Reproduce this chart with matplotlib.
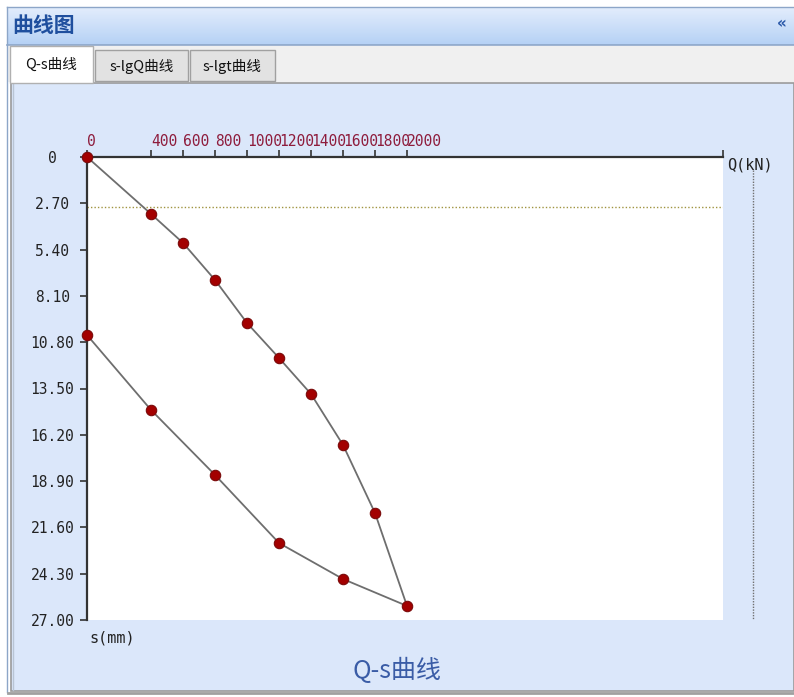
import numpy as np
import matplotlib
matplotlib.use("Agg")
import matplotlib.pyplot as plt
from matplotlib.patches import Rectangle

plt.rcParams['font.family'] = ['Noto Sans CJK SC', 'DejaVu Sans']

# loading / unloading data, Q in kN, s in mm
load_q = [0, 400, 600, 800, 1000, 1200, 1400, 1600, 1800, 2000]
load_s = [0, 3.32, 5.01, 7.17, 9.68, 11.72, 13.82, 16.79, 20.76, 26.18]
unload_q = [2000, 1600, 1200, 800, 400, 0]
unload_s = [26.18, 24.61, 22.51, 18.54, 14.75, 10.38]
limit_s = 2.92

x_ticks = [0, 400, 600, 800, 1000, 1200, 1400, 1600, 1800, 2000]
y_ticks = [0, 2.7, 5.4, 8.1, 10.8, 13.5, 16.2, 18.9, 21.6, 24.3, 27.0]
y_labels = ['0'] + [f'{v:.2f}' for v in y_ticks[1:]]
tabs = ['Q-s曲线', 's-lgQ曲线', 's-lgt曲线']

W, H = 794, 697
fig = plt.figure(figsize=(W / 100, H / 100), dpi=100)
fig.patch.set_facecolor('white')

# window chrome, drawn in pixel coordinates
bg = fig.add_axes([0, 0, 1, 1], zorder=0)
bg.set_xlim(0, W)
bg.set_ylim(H, 0)
bg.axis('off')

grad = np.linspace(0, 1, 64).reshape(-1, 1)
top_c = np.array([0.89, 0.93, 0.99])
bot_c = np.array([0.71, 0.82, 0.96])
bar = top_c + (bot_c - top_c) * grad[..., None]
bg.imshow(bar, extent=(7, W, 45, 7), aspect='auto', zorder=1)
bg.plot([7, W], [7, 7], color='#8da6c8', lw=1, zorder=2)
bg.plot([7, W], [45, 45], color='#8da6c8', lw=1.2, zorder=2)
bg.plot([7, 7], [7, 692], color='#8da6c8', lw=1, zorder=2)
bg.text(12, 26, '曲线图', fontsize=15, fontweight='bold', color='#1f4f9e',
        va='center', ha='left', zorder=3)
bg.text(782, 24, '«', fontsize=11, fontweight='bold', color='#2a58a8',
        va='center', ha='center', family='DejaVu Sans', zorder=3)

bg.add_patch(Rectangle((8, 46), W - 8, 36, facecolor='#f0f0f0', edgecolor='none', zorder=1))
tab_x = [(10, 93), (95, 188), (190, 275)]
for i, (label, (x0, x1)) in enumerate(zip(tabs, tab_x)):
    if i == 0:
        bg.add_patch(Rectangle((x0, 46), x1 - x0, 37, facecolor='white',
                               edgecolor='#b0b0b0', lw=1, zorder=3))
    else:
        bg.add_patch(Rectangle((x0, 50), x1 - x0, 31, facecolor='#e2e2e2',
                               edgecolor='#a0a0a0', lw=1, zorder=2))
    bg.text((x0 + x1) / 2, 65 if i == 0 else 66, label, fontsize=10.5, color='#111111',
            ha='center', va='center', zorder=4)

bg.add_patch(Rectangle((11, 83), W - 11, 608, facecolor='#dbe7fa',
                       edgecolor='#9a9a9a', lw=1.2, zorder=1))
bg.plot([13, 13], [84, 690], color='#b8c4d4', lw=1, zorder=2)
bg.plot([8, W], [693, 693], color='#a0a0a0', lw=2, zorder=2)
# vertical dotted guide right of the plot
bg.plot([753, 753], [170, 620], color='#707070', lw=1, ls=(0, (1, 1)), zorder=2)

# chart axes
ax = fig.add_axes([87 / W, (H - 620) / H, 636 / W, 463 / H], zorder=2)
ax.set_facecolor('white')
ax.set_xlim(0, 3975)
ax.set_ylim(27, 0)

ax.axhline(limit_s, color='#a09440', lw=1, ls=(0, (1, 1.5)), zorder=1)
ax.plot(load_q, load_s, color='#6e6e6e', lw=1.3, zorder=2, clip_on=False)
ax.plot(unload_q, unload_s, color='#6e6e6e', lw=1.3, zorder=2, clip_on=False)
ax.plot(load_q, load_s, 'o', ms=7.5, mfc='#a30000', mec='#7a0a0a', mew=0.8,
        zorder=3, clip_on=False)
ax.plot(unload_q[1:], unload_s[1:], 'o', ms=7.5, mfc='#a30000', mec='#7a0a0a', mew=0.8,
        zorder=3, clip_on=False)

for side in ['right', 'bottom']:
    ax.spines[side].set_visible(False)
for side in ['top', 'left']:
    ax.spines[side].set_color('#333333')
    ax.spines[side].set_linewidth(1.6)

ax.xaxis.tick_top()
ax.set_xticks(x_ticks)
ax.set_xticklabels([str(v) for v in x_ticks], family='DejaVu Sans Mono',
                   fontsize=10.5, color='#8e1c3c', ha='left')
ax.set_xticks([3975], minor=True)
ax.tick_params(axis='x', which='both', direction='out', length=5, width=1.2,
               color='#333333', pad=0.5)
ax.tick_params(axis='x', which='minor', labeltop=False)

ax.set_yticks(y_ticks)
ax.set_yticklabels(y_labels, family='DejaVu Sans Mono', fontsize=10.5,
                   color='#222222', ha='center')
ax.tick_params(axis='y', direction='out', length=5, width=1.2, color='#333333', pad=20)

fig.text(727 / W, 1 - 165 / H, 'Q(kN)', family='DejaVu Sans Mono', fontsize=11,
         color='#222222', ha='left', va='center')
fig.text(89 / W, 1 - 638 / H, 's(mm)', family='DejaVu Sans Mono', fontsize=11,
         color='#222222', ha='left', va='center')
fig.text(397 / W, 1 - 671 / H, 'Q-s曲线', fontsize=18, color='#3a5ca6',
         ha='center', va='center')

fig.savefig('out.png', dpi=100)
